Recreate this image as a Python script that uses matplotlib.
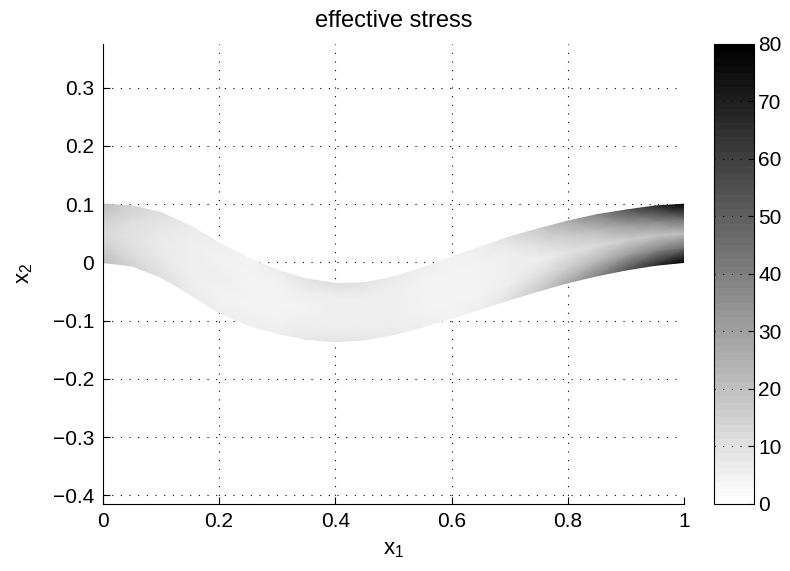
import numpy as np
import matplotlib
matplotlib.use("Agg")
import matplotlib.pyplot as plt
import matplotlib.ticker as ticker

plt.rcParams['font.family'] = ['Liberation Sans', 'DejaVu Sans']
plt.rcParams['mathtext.default'] = 'regular'

# beam stations along x1
x_st = [0.0, 0.05, 0.1, 0.15, 0.2, 0.25, 0.3, 0.35, 0.4, 0.45, 0.5,
        0.55, 0.6, 0.65, 0.7, 0.75, 0.8, 0.85, 0.9, 0.95, 1.0]
# upper and lower edge of the deformed beam (x2)
y_top = [0.100, 0.097, 0.086, 0.063, 0.034, 0.008, -0.013, -0.028, -0.036, -0.035, -0.025,
         -0.009, 0.009, 0.027, 0.044, 0.058, 0.071, 0.082, 0.090, 0.097, 0.100]
y_bot = [0.0, -0.006, -0.025, -0.055, -0.086, -0.108, -0.122, -0.132, -0.136, -0.133, -0.124,
         -0.111, -0.096, -0.080, -0.064, -0.049, -0.035, -0.023, -0.013, -0.005, 0.0]

# effective stress through the thickness (bottom, 1/4, middle, 3/4, top)
s_bot = [20, 14, 10, 7, 5, 5, 6, 8, 9, 8, 7, 5, 4, 6, 10, 17, 27, 38, 52, 66, 79]
s_q1 = [15, 11, 8, 5, 4, 4, 4, 5, 6, 6, 5, 4, 4, 4, 6, 10, 16, 22, 30, 38, 45]
s_mid = [12, 9, 7, 6, 5, 4, 4, 4, 5, 5, 5, 4, 4, 4, 5, 6, 9, 12, 15, 18, 20]
s_q3 = [15, 11, 8, 5, 4, 4, 4, 5, 6, 6, 5, 4, 4, 4, 6, 10, 16, 22, 30, 38, 45]
s_top = [20, 14, 10, 7, 5, 4, 6, 9, 11, 9, 7, 5, 4, 6, 10, 17, 27, 38, 52, 66, 79]

xticks = [0, 0.2, 0.4, 0.6, 0.8, 1]
yticks = [-0.4, -0.3, -0.2, -0.1, 0, 0.1, 0.2, 0.3]
cticks = [0, 10, 20, 30, 40, 50, 60, 70, 80]

fig = plt.figure(figsize=(7.9, 5.71), dpi=100)
ax = fig.add_axes([0.130, 0.118, 0.736, 0.805])
cax = fig.add_axes([0.904, 0.118, 0.0506, 0.805])

# mesh through thickness
frac = np.linspace(0, 1, 5)
xb = np.array(x_st)
yt = np.array(y_top)
yb = np.array(y_bot)
X = np.tile(xb, (5, 1))
Y = yb[None, :] + frac[:, None] * (yt - yb)[None, :]
C = np.array([s_bot, s_q1, s_mid, s_q3, s_top], dtype=float)

cmap = plt.get_cmap('gray_r', 64)
mesh = ax.pcolormesh(X, Y, C, shading='gouraud', cmap=cmap, vmin=0, vmax=80, zorder=1)

ax.set_xlim(0, 1)
ax.set_ylim(-0.414, 0.375)
ax.set_xticks(xticks)
ax.set_yticks(yticks)
fmt = ticker.FuncFormatter(lambda v, p: ('%g' % round(v, 3)).replace('-', '\u2212'))
ax.xaxis.set_major_formatter(fmt)
ax.yaxis.set_major_formatter(fmt)
ax.tick_params(direction='in', length=5, width=0.8, labelsize=15, pad=6)
ax.spines['top'].set_visible(False)
ax.spines['right'].set_visible(False)
ax.set_axisbelow(True)
ax.grid(True, linestyle=(0, (1, 6.8)), color='k', linewidth=0.8)

ax.set_title('effective stress', fontsize=17, pad=12)
ax.set_xlabel('x$_1$', fontsize=16, labelpad=6)
ax.set_ylabel('x$_2$', fontsize=16, labelpad=13)

cb = fig.colorbar(mesh, cax=cax, ticks=cticks)
cb.outline.set_linewidth(0.8)
cax.tick_params(direction='in', length=4, width=0.8, labelsize=15, pad=3)
for t in cticks[1:-1]:
    cax.axhline(t, color='k', linestyle=(0, (1, 6.8)), linewidth=0.8)

fig.savefig('out.png', dpi=100)
